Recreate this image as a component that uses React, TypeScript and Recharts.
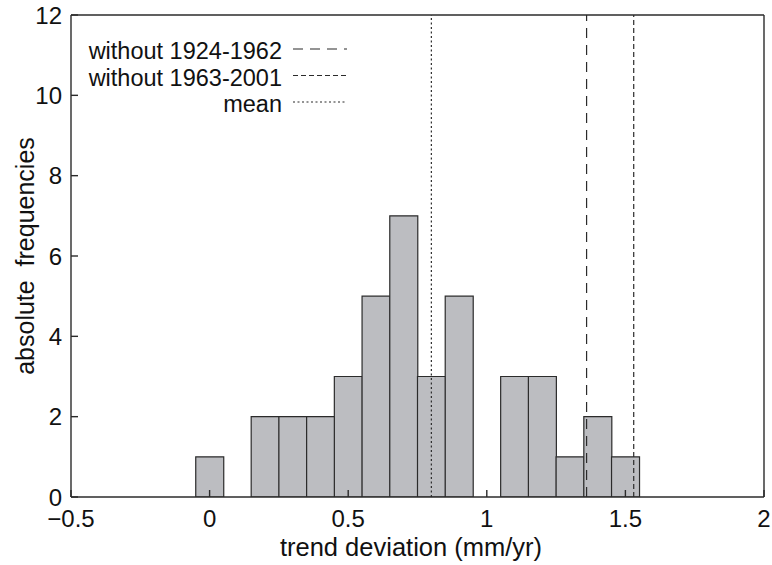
import {
  Bar,
  ComposedChart,
  ReferenceLine,
  XAxis,
  YAxis,
} from "recharts";

// histogram bins (centres) and counts
const BIN_CENTERS = [0, 0.1, 0.2, 0.3, 0.4, 0.5, 0.6, 0.7, 0.8, 0.9, 1.0, 1.1, 1.2, 1.3, 1.4, 1.5];
const COUNTS = [1, 0, 2, 2, 2, 3, 5, 7, 3, 5, 0, 3, 3, 1, 2, 1];

const X_TICKS = [-0.5, 0, 0.5, 1, 1.5, 2];
const Y_TICKS = [0, 2, 4, 6, 8, 10, 12];

const LINE_LABELS = ["without 1924-1962", "without 1963-2001", "mean"];
const LINE_VALUES = [1.36, 1.53, 0.8];

const DASHES = ["10 7", "5 3", "2 2.5"];
const FONT = "'Liberation Sans', Arial, Helvetica, sans-serif";
const INK = "#2b2b2b";

const data = BIN_CENTERS.map((x, i) => ({ x, count: COUNTS[i] }));

const fmtX = (v: number) => (v < 0 ? `\u2212${Math.abs(v)}` : `${v}`);

function LineLegend() {
  return (
    <svg
      width={300}
      height={90}
      style={{ position: "absolute", left: 60, top: 30, overflow: "visible" }}
    >
      {LINE_LABELS.map((label, i) => {
        const y = 19 + i * 26.5;
        return (
          <g key={label}>
            <text
              x={222}
              y={y + 2}
              textAnchor="end"
              dominantBaseline="central"
              fontFamily={FONT}
              fontSize={23.5}
              fill="#111"
            >
              {label}
            </text>
            <line
              x1={233}
              x2={287}
              y1={y}
              y2={y}
              stroke={INK}
              strokeWidth={1.2}
              strokeDasharray={DASHES[i]}
            />
          </g>
        );
      })}
    </svg>
  );
}

export default function App() {
  const tickStyle = { fontSize: 24, fill: "#111", fontFamily: FONT };
  return (
    <div style={{ position: "absolute", left: 0, top: 0, width: 772, height: 565 }}>
      <ComposedChart
        width={772}
        height={565}
        data={data}
        margin={{ top: 0, right: 0, bottom: 0, left: 0 }}
        barCategoryGap={0}
        barGap={0}
      >
        <XAxis
          dataKey="x"
          type="number"
          domain={[-0.5, 2]}
          ticks={X_TICKS}
          tickFormatter={fmtX}
          height={68}
          tickSize={-7}
          tickMargin={20}
          tick={tickStyle}
          stroke={INK}
          strokeWidth={1.4}
          allowDataOverflow
          label={{
            content: () => (
              <text
                x={411}
                y={556}
                textAnchor="middle"
                fontFamily={FONT}
                fontSize={25.5}
                fill="#111"
              >
                trend deviation (mm/yr)
              </text>
            ),
          }}
        />
        <XAxis
          xAxisId="t"
          orientation="top"
          type="number"
          domain={[-0.5, 2]}
          ticks={X_TICKS}
          height={15}
          tickSize={-7}
          tick={false}
          stroke={INK}
          strokeWidth={1.4}
          allowDataOverflow
        />
        <YAxis
          type="number"
          domain={[0, 12]}
          ticks={Y_TICKS}
          width={71}
          tickSize={-7}
          tickMargin={16}
          tick={tickStyle}
          stroke={INK}
          strokeWidth={1.4}
          allowDataOverflow
          label={{
            content: (p: any) => {
              const vb = p.viewBox;
              const cy = vb.y + vb.height / 2;
              return (
                <text
                  x={25}
                  y={cy}
                  transform={`rotate(-90 25 ${cy})`}
                  textAnchor="middle"
                  dominantBaseline="central"
                  fontFamily={FONT}
                  fontSize={25}
                  fill="#111"
                  style={{ whiteSpace: "pre" }}
                >
                  {"absolute\u00a0 frequencies"}
                </text>
              );
            },
          }}
        />
        <YAxis
          yAxisId="r"
          orientation="right"
          type="number"
          domain={[0, 12]}
          ticks={Y_TICKS}
          width={8}
          tickSize={-7}
          tick={false}
          stroke={INK}
          strokeWidth={1.4}
          allowDataOverflow
        />
        <Bar
          dataKey="count"
          fill="#bcbdc1"
          stroke={INK}
          strokeWidth={1.2}
          isAnimationActive={false}
        />
        {LINE_VALUES.map((v, i) => (
          <ReferenceLine
            key={LINE_LABELS[i]}
            x={v}
            stroke={INK}
            strokeWidth={1.2}
            strokeDasharray={DASHES[i]}
          />
        ))}
      </ComposedChart>
      <LineLegend />
    </div>
  );
}
